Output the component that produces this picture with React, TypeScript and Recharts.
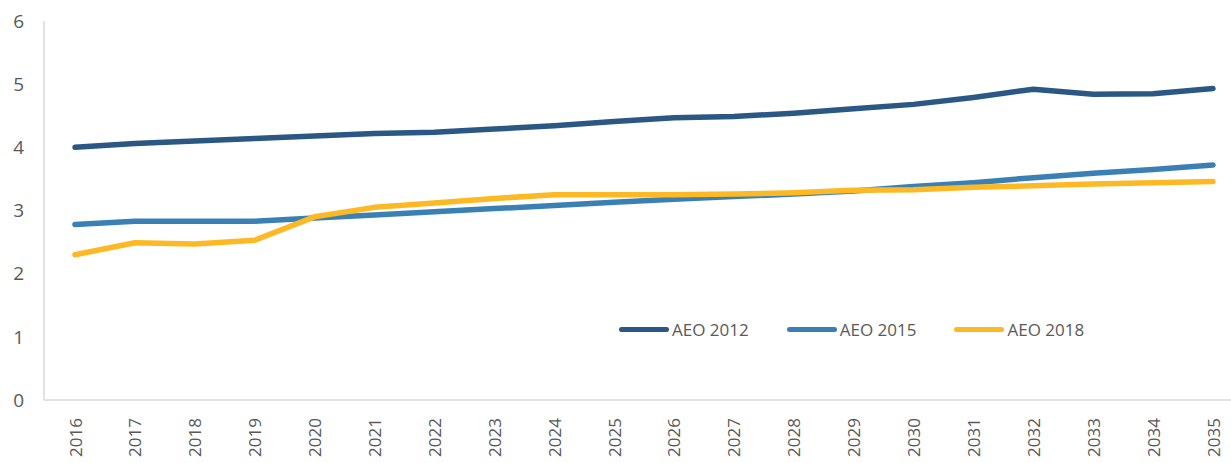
import { Line, LineChart, XAxis, YAxis } from "recharts";

const years = [
  "2016", "2017", "2018", "2019", "2020", "2021", "2022", "2023", "2024", "2025",
  "2026", "2027", "2028", "2029", "2030", "2031", "2032", "2033", "2034", "2035",
];

const aeo2012 = [
  4.0, 4.06, 4.1, 4.14, 4.18, 4.22, 4.24, 4.29, 4.34, 4.41,
  4.47, 4.49, 4.54, 4.61, 4.68, 4.79, 4.92, 4.84, 4.85, 4.93,
];

const aeo2015 = [
  2.78, 2.83, 2.83, 2.83, 2.88, 2.93, 2.98, 3.03, 3.08, 3.13,
  3.18, 3.22, 3.26, 3.31, 3.38, 3.44, 3.52, 3.59, 3.65, 3.72,
];

const aeo2018 = [
  2.3, 2.49, 2.47, 2.53, 2.9, 3.05, 3.12, 3.19, 3.25, 3.25,
  3.25, 3.26, 3.28, 3.32, 3.33, 3.37, 3.39, 3.42, 3.44, 3.46,
];

const yTicks = [0, 1, 2, 3, 4, 5, 6];

const series = [
  { key: "aeo2012", name: "AEO 2012", color: "#2a5783" },
  { key: "aeo2015", name: "AEO 2015", color: "#3a80b5" },
  { key: "aeo2018", name: "AEO 2018", color: "#fdb924" },
];

const data = years.map((year, i) => ({
  year,
  aeo2012: aeo2012[i],
  aeo2015: aeo2015[i],
  aeo2018: aeo2018[i],
}));

const FONT = "'Open Sans', sans-serif";
const TEXT = "#595959";

const YearTick = ({ x, y, payload }: any) => (
  <g transform={`translate(${x},${y})`}>
    <text
      transform="rotate(-90)"
      x={-10}
      y={0}
      textAnchor="end"
      dominantBaseline="central"
      fill={TEXT}
      fontSize={17}
      fontFamily={FONT}
    >
      {payload.value}
    </text>
  </g>
);

// legend sits inside the plot area, so it is drawn as an overlay
const ChartLegend = () => (
  <div
    style={{
      position: "absolute",
      left: 619,
      top: 318,
      display: "flex",
      fontFamily: FONT,
      fontSize: 17,
      color: TEXT,
    }}
  >
    {series.map((s) => (
      <div key={s.key} style={{ display: "flex", alignItems: "center", marginRight: 38 }}>
        <div
          style={{
            width: 50,
            height: 5,
            borderRadius: 3,
            background: s.color,
            marginRight: 3,
          }}
        />
        <span>{s.name}</span>
      </div>
    ))}
  </div>
);

export default function App() {
  return (
    <div style={{ position: "relative", width: 1231, height: 463, background: "#fff" }}>
      <style>{`body{margin:0}`}</style>
      <LineChart
        width={1231}
        height={463}
        data={data}
        margin={{ top: 21, right: 0, bottom: 0, left: 0 }}
      >
        <XAxis
          dataKey="year"
          tick={<YearTick />}
          tickLine={false}
          axisLine={{ stroke: "#d9d9d9", strokeWidth: 1.5 }}
          interval={0}
          height={63}
          padding={{ left: 31, right: 18 }}
        />
        <YAxis
          domain={[0, 6]}
          ticks={yTicks}
          tickLine={false}
          axisLine={{ stroke: "#d9d9d9", strokeWidth: 1.5 }}
          width={44}
          tickMargin={14}
          tick={{ fill: TEXT, fontSize: 19, fontFamily: FONT }}
        />
        {series.map((s) => (
          <Line
            key={s.key}
            type="linear"
            dataKey={s.key}
            name={s.name}
            stroke={s.color}
            strokeWidth={5.5}
            strokeLinecap="round"
            strokeLinejoin="round"
            dot={false}
            activeDot={false}
            isAnimationActive={false}
          />
        ))}
      </LineChart>
      <ChartLegend />
    </div>
  );
}
